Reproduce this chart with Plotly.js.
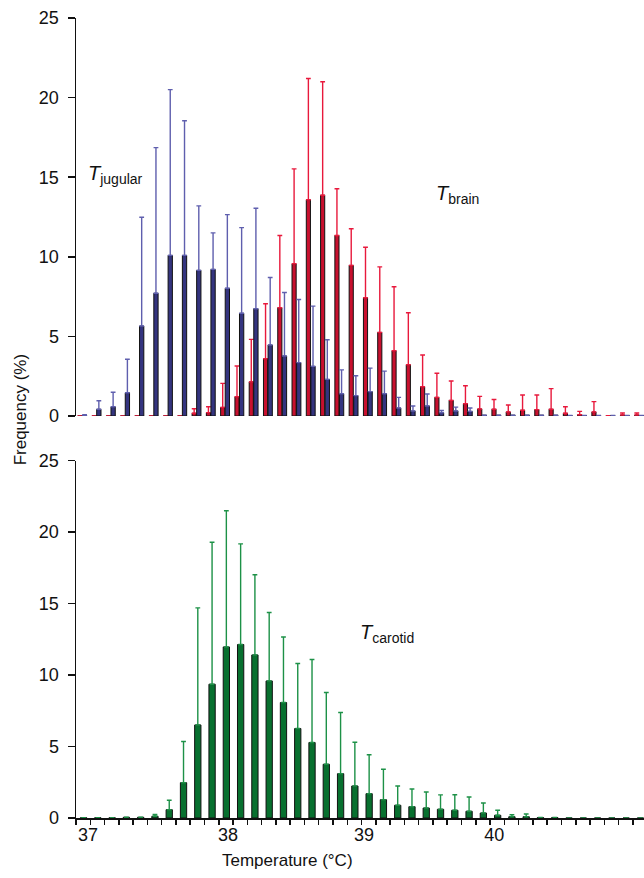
<!DOCTYPE html>
<html>
<head>
<meta charset="utf-8">
<script src="https://cdn.plot.ly/plotly-3.0.1.min.js"></script>
<style>
html,body{margin:0;padding:0;background:#fff;}
#chart{width:644px;height:878px;}
</style>
</head>
<body>
<div id="chart"></div>
<script>
// Bin temperatures (°C), 0.1 °C bins
var temperature = [37.0,37.1,37.2,37.3,37.4,37.5,37.6,37.7,37.8,37.9,
                   38.0,38.1,38.2,38.3,38.4,38.5,38.6,38.7,38.8,38.9,
                   39.0,39.1,39.2,39.3,39.4,39.5,39.6,39.7,39.8,39.9,
                   40.0,40.1,40.2,40.3,40.4,40.5,40.6,40.7,40.8,40.9];

// T jugular: frequency (%) and SD (upper error)
var jugular = [0.03,0.42,0.58,1.46,5.65,7.71,10.09,10.09,9.15,9.21,
               8.02,6.45,6.74,4.46,3.77,3.35,3.12,2.30,1.40,1.28,
               1.53,1.40,0.50,0.31,0.63,0.20,0.31,0.29,0.05,0.05,
               0.05,0.05,0.05,0.05,0.03,0.03,0.03,0.03,0.03,0.03];
var jugularSD = [0.05,0.54,0.91,2.10,6.83,9.15,10.41,8.46,4.05,2.29,
                 4.63,5.38,6.31,4.24,3.99,3.97,3.78,2.49,1.50,1.25,
                 1.48,1.42,0.67,0.32,0.75,0.15,0.25,0.21,0,0,
                 0,0,0,0,0,0,0,0,0,0];

// T brain
var brain = [0.01,0.01,0.01,0.01,0.01,0.01,0.01,0.01,0.17,0.21,
             0.54,1.21,2.14,3.60,6.80,9.56,13.58,13.87,11.34,9.46,
             7.43,5.25,4.10,3.22,1.84,1.17,0.98,0.77,0.44,0.42,
             0.25,0.36,0.40,0.42,0.17,0.08,0.25,0.02,0.06,0.06];
var brainSD = [0,0,0,0,0,0,0,0,0.29,0.37,
               1.51,1.93,2.67,3.45,4.54,5.96,7.62,7.13,2.93,2.30,
               3.17,4.12,4.02,3.27,1.99,1.52,1.22,1.13,0.79,0.62,
               0.44,0.96,0.92,1.30,0.41,0.21,0.65,0,0.13,0.13];

// T carotid
var carotid = [0.02,0.02,0.02,0.05,0.05,0.12,0.58,2.47,6.51,9.36,
               11.97,12.14,11.41,9.59,8.08,6.26,5.28,3.76,3.10,2.24,
               1.70,1.28,0.89,0.79,0.70,0.61,0.54,0.47,0.35,0.19,
               0.09,0.09,0.03,0.03,0,0,0,0,0,0];
var carotidSD = [0,0,0,0,0,0.13,0.66,2.88,8.19,9.94,
                 9.53,7.04,5.61,4.79,4.59,4.55,5.81,5.02,4.28,3.06,
                 2.73,2.13,1.35,1.24,1.12,1.01,1.09,1.00,0.70,0.35,
                 0.14,0.19,0,0,null,null,null,null,null,null];

var tickText = ['37','38','39','40'];
var tickLabelPos = [37.034, 38.014, 38.967, 39.879];

var zeros = temperature.map(function(){return 0;});
var FONT = 'Liberation Sans, Arial, Helvetica, sans-serif';
var xRange = [36.95, 40.928];

function barTrace(y, sd, fill, errColor, xa, ya, offset, width, cap) {
  return {
    type: 'bar', x: temperature, y: y, xaxis: xa, yaxis: ya,
    offset: offset, width: width,
    marker: {color: fill, line: {color: '#111', width: 1}},
    error_y: {type: 'data', symmetric: false, array: sd, arrayminus: zeros,
              color: errColor, thickness: 1.4, width: cap, visible: true},
    hoverinfo: 'x+y', showlegend: false
  };
}

var data = [
  barTrace(brain, brainSD, '#c8102e', '#e8193c', 'x', 'y', -0.037, 0.029, 2.4),
  barTrace(jugular, jugularSD, '#34347f', '#5f5fae', 'x', 'y', -0.005, 0.030, 2.4),
  barTrace(carotid, carotidSD, '#08702f', '#1d9147', 'x2', 'y2', -0.019, 0.044, 2.4)
];

var yAxisCommon = {
  range: [0, 25], tickmode: 'linear', tick0: 0, dtick: 5,
  showline: true, linecolor: '#111', linewidth: 1.5,
  ticks: 'outside', ticklen: 7, tickwidth: 1.5, tickcolor: '#111',
  showgrid: false, zeroline: false, ticklabelstandoff: 5,
  tickfont: {family: FONT, size: 18, color: '#111'}
};

var layout = {
  width: 644, height: 878,
  margin: {l: 76, r: 0, t: 18, b: 60},
  paper_bgcolor: '#fff', plot_bgcolor: '#fff',
  barmode: 'overlay',
  font: {family: FONT, color: '#111'},
  xaxis: {domain: [0, 1], anchor: 'y', range: xRange, showline: false,
          showticklabels: false, ticks: '', showgrid: false, zeroline: false},
  yaxis: Object.assign({}, yAxisCommon, {domain: [0.5025, 1], anchor: 'x'}),
  xaxis2: {domain: [0, 1], anchor: 'y2', range: xRange,
           showline: true, linecolor: '#111', linewidth: 1.5,
           tickmode: 'array', tickvals: tickLabelPos, ticktext: tickText,
           ticks: '', ticklabelstandoff: 0,
           tickfont: {family: FONT, size: 18, color: '#111'},
           minor: {tickmode: 'linear', tick0: 36.95, dtick: 0.1,
                   ticks: 'outside', ticklen: 5, tickwidth: 1.5, tickcolor: '#111',
                   showgrid: false},
           showgrid: false, zeroline: false},
  yaxis2: Object.assign({}, yAxisCommon, {domain: [0, 0.4466], anchor: 'x2'}),
  annotations: [
    {xref: 'x', yref: 'y', x: 37.02, y: 15.2, xanchor: 'left', yanchor: 'middle',
     text: '<i>T</i><sub>jugular</sub>', showarrow: false,
     font: {family: FONT, size: 20, color: '#111'}},
    {xref: 'x', yref: 'y', x: 39.457, y: 13.9, xanchor: 'left', yanchor: 'middle',
     text: '<i>T</i><sub>brain</sub>', showarrow: false,
     font: {family: FONT, size: 20, color: '#111'}},
    {xref: 'x2', yref: 'y2', x: 38.925, y: 12.9, xanchor: 'left', yanchor: 'middle',
     text: '<i>T</i><sub>carotid</sub>', showarrow: false,
     font: {family: FONT, size: 20, color: '#111'}},
    {xref: 'paper', yref: 'paper', x: -0.098, y: 0.51, xanchor: 'center', yanchor: 'middle',
     text: 'Frequency (%)', textangle: -90, showarrow: false,
     font: {family: FONT, size: 17, color: '#111'}},
    {xref: 'x2', yref: 'paper', x: 38.43, y: -0.0525, xanchor: 'center', yanchor: 'middle',
     text: 'Temperature (°C)', showarrow: false,
     font: {family: FONT, size: 17, color: '#111'}}
  ]
};

Plotly.newPlot('chart', data, layout, {displayModeBar: false, staticPlot: true});
</script>
</body>
</html>
